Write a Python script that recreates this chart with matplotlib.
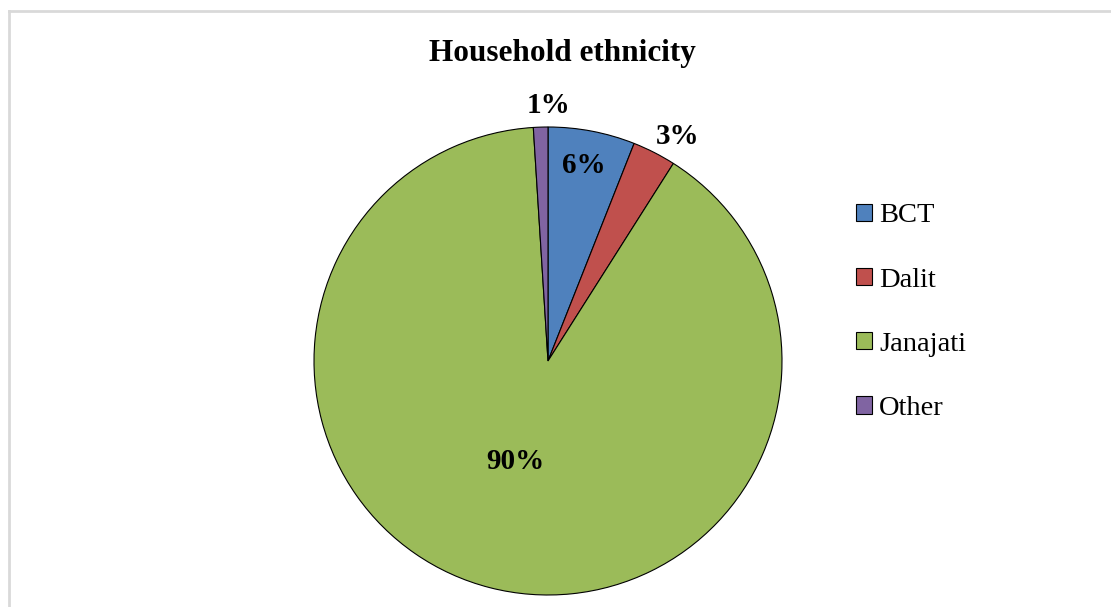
import numpy as np
import matplotlib.pyplot as plt

# data
categories = ['BCT', 'Dalit', 'Janajati', 'Other']
shares = [6, 3, 90, 1]
pct_labels = ['6%', '3%', '90%', '1%']
colors = ['#4F81BD', '#C0504D', '#9BBB59', '#8064A2']
# label placement: distance from centre (radius units) and angle tweak (deg)
label_dist = [0.85, 1.11, 0.45, 1.09]
label_turn = [0.5, -3.0, -3.5, -1.8]

plt.rcParams['font.family'] = ['Liberation Serif', 'DejaVu Serif']

fig = plt.figure(figsize=(11.11, 6.07), dpi=100)
fig.patch.set_facecolor('white')

# chart-area border (light gray, left and top visible)
fig.add_artist(plt.Line2D([8.5 / 1111, 8.5 / 1111], [0, 1 - 10.5 / 607],
                          transform=fig.transFigure, color='#D9D9D9', lw=2))
fig.add_artist(plt.Line2D([8.5 / 1111, 1], [1 - 10.5 / 607, 1 - 10.5 / 607],
                          transform=fig.transFigure, color='#D9D9D9', lw=2))

ax = fig.add_axes([314 / 1111, 12 / 607, 468 / 1111, 468 / 607])
wedges, _ = ax.pie(shares, colors=colors, startangle=90, counterclock=False,
                   radius=1, wedgeprops=dict(edgecolor='black', linewidth=0.8))
ax.set_xlim(-1, 1)
ax.set_ylim(-1, 1)
ax.set_aspect('equal')
ax.axis('off')

for w, lab, d, t in zip(wedges, pct_labels, label_dist, label_turn):
    mid = np.deg2rad((w.theta1 + w.theta2) / 2 + t)
    ax.text(d * np.cos(mid), d * np.sin(mid), lab, ha='center', va='center',
            fontsize=21, fontweight='bold', clip_on=False)

fig.text(562 / 1111, 1 - 53 / 607, 'Household ethnicity', ha='center', va='center',
         fontsize=22.5, fontweight='bold')

fig.legend(wedges, categories, loc='upper left', bbox_to_anchor=(842 / 1111, 1 - 189 / 607),
           frameon=False, fontsize=20.5, handlelength=0.55, handleheight=0.55,
           handletextpad=0.25, labelspacing=1.38, borderpad=0)

fig.savefig('out.png', dpi=100)
